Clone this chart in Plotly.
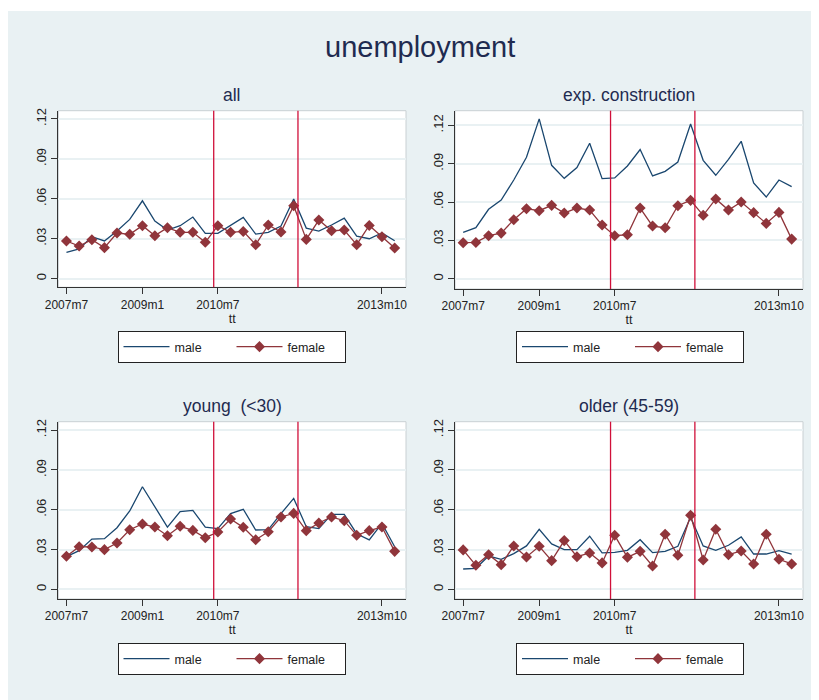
import plotly.graph_objects as go

# ---------------- data ----------------
periods = ["2007m7", "2007m10", "2008m1", "2008m4", "2008m7", "2008m10",
           "2009m1", "2009m4", "2009m7", "2009m10", "2010m1", "2010m4",
           "2010m7", "2010m10", "2011m1", "2011m4", "2011m7", "2011m10",
           "2012m1", "2012m4", "2012m7", "2012m10", "2013m1", "2013m4",
           "2013m7", "2013m10", "2014m1"]

all_male = [0.0198, 0.0223, 0.0315, 0.0283, 0.0358, 0.0445, 0.0585, 0.0433, 0.0365,
            0.0398, 0.0463, 0.0340, 0.0340, 0.0400, 0.0460, 0.0335, 0.0348, 0.0395,
            0.0598, 0.0380, 0.0358, 0.0403, 0.0455, 0.0320, 0.0300, 0.0343, 0.0285]
all_female = [0.0283, 0.0245, 0.0293, 0.0233, 0.0343, 0.0333, 0.0398, 0.0323, 0.0383,
              0.0348, 0.0348, 0.0273, 0.0398, 0.0348, 0.0355, 0.0255, 0.0403, 0.0350,
              0.0548, 0.0295, 0.0440, 0.0360, 0.0365, 0.0255, 0.0400, 0.0315, 0.0230]

con_male = [0.0363, 0.0399, 0.0543, 0.0616, 0.0772, 0.0950, 0.1250, 0.0887, 0.0785,
            0.0869, 0.1059, 0.0783, 0.0788, 0.0882, 0.1010, 0.0804, 0.0840, 0.0913,
            0.1210, 0.0926, 0.0809, 0.0934, 0.1075, 0.0749, 0.0639, 0.0772, 0.0720]
con_female = [0.0282, 0.0284, 0.0337, 0.0357, 0.0462, 0.0548, 0.0532, 0.0574, 0.0514,
              0.0553, 0.0537, 0.0420, 0.0337, 0.0344, 0.0553, 0.0412, 0.0399, 0.0571,
              0.0613, 0.0496, 0.0624, 0.0537, 0.0600, 0.0517, 0.0433, 0.0519, 0.0310]

young_male = [0.0246, 0.0291, 0.0379, 0.0382, 0.0464, 0.0590, 0.0773, 0.0623, 0.0469,
              0.0585, 0.0595, 0.0469, 0.0457, 0.0570, 0.0603, 0.0447, 0.0449, 0.0570,
              0.0685, 0.0472, 0.0457, 0.0565, 0.0565, 0.0419, 0.0372, 0.0497, 0.0321]
young_female = [0.0249, 0.0321, 0.0319, 0.0299, 0.0349, 0.0449, 0.0492, 0.0469, 0.0404,
                0.0475, 0.0444, 0.0389, 0.0432, 0.0530, 0.0467, 0.0374, 0.0434, 0.0545,
                0.0572, 0.0442, 0.0500, 0.0545, 0.0517, 0.0407, 0.0442, 0.0469, 0.0286]

older_male = [0.0153, 0.0158, 0.0251, 0.0226, 0.0269, 0.0327, 0.0452, 0.0342, 0.0299,
              0.0299, 0.0400, 0.0274, 0.0279, 0.0294, 0.0374, 0.0276, 0.0286, 0.0324,
              0.0543, 0.0327, 0.0294, 0.0332, 0.0395, 0.0266, 0.0266, 0.0291, 0.0266]
older_female = [0.0297, 0.0181, 0.0261, 0.0186, 0.0327, 0.0244, 0.0324, 0.0216, 0.0367,
                0.0246, 0.0274, 0.0199, 0.0407, 0.0241, 0.0286, 0.0176, 0.0415, 0.0256,
                0.0558, 0.0221, 0.0452, 0.0261, 0.0289, 0.0191, 0.0415, 0.0226, 0.0191]

panel_titles = ["all", "exp. construction", "young\u00a0 (&lt;30)", "older (45-59)"]
series_names = ["male", "female"]
x_tick_labels = ["2007m7", "2009m1", "2010m7", "2013m10"]
y_tick_vals = [0, 0.03, 0.06, 0.09, 0.12]
y_tick_text = ["0", ".03", ".06", ".09", ".12"]
reform_dates = ["2010m6", "2012m2"]


def to_date(p):
    y, m = p.split("m")
    return f"{y}-{int(m):02d}-01"


x_dates = [to_date(p) for p in periods]

panels = [
    (all_male, all_female),
    (con_male, con_female),
    (young_male, young_female),
    (older_male, older_female),
]

# ---------------- style ----------------
OFF = 8                      # page body margin
W, H = 819 - OFF, 700 - OFF  # figure size so that the page is 819x700


def px(x):
    return (x - OFF) / W


def py(y):
    return 1 - (y - OFF) / H


BG = "#e9f1f3"
NAVY = "#1a476f"
MAROON = "#90353b"
VLINE = "#d0103a"
TITLE_COL = "#1f2b50"
FONT = "Liberation Sans, Arial, sans-serif"

# page-pixel boxes of plot areas: (left, right, top, bottom)
boxes = [
    (58.3, 406.0, 110.7, 287.3),
    (455.0, 803.0, 110.7, 289.0),
    (58.3, 406.0, 421.7, 599.0),
    (455.0, 803.0, 421.7, 599.0),
]
y_ranges = [
    [-0.0065, 0.1262],
    [-0.0080, 0.1314],
    [-0.0073, 0.1263],
    [-0.0073, 0.1263],
]
x_range = ["2007-05-03", "2014-03-24"]
legend_pos = [(231.5, 331.0), (630.0, 331.0), (231.5, 643.0), (630.0, 643.0)]

fig = go.Figure()

for i, ((male, female), title) in enumerate(zip(panels, panel_titles)):
    n = i + 1
    xa = "x" if n == 1 else f"x{n}"
    ya = "y" if n == 1 else f"y{n}"
    lg = "legend" if n == 1 else f"legend{n}"
    fig.add_trace(go.Scatter(
        x=x_dates, y=male, mode="lines", name=series_names[0],
        line=dict(color=NAVY, width=1.3), xaxis=xa, yaxis=ya, legend=lg))
    fig.add_trace(go.Scatter(
        x=x_dates, y=female, mode="lines+markers", name=series_names[1],
        line=dict(color=MAROON, width=1.3),
        marker=dict(symbol="diamond", size=8.5, color=MAROON),
        xaxis=xa, yaxis=ya, legend=lg))

    l, r, t, b = boxes[i]
    xdom = [px(l), px(r)]
    ydom = [py(b), py(t)]
    axis_common = dict(
        showline=True, linecolor="#333333", linewidth=1,
        ticks="outside", ticklen=6, tickcolor="#333333", tickwidth=1,
        automargin=False, mirror=False,
    )
    xkey = "xaxis" if n == 1 else f"xaxis{n}"
    ykey = "yaxis" if n == 1 else f"yaxis{n}"
    fig.update_layout({
        xkey: dict(
            domain=xdom, anchor=ya, type="date", range=x_range,
            tickvals=[to_date(p) for p in x_tick_labels], ticktext=x_tick_labels,
            tickfont=dict(family=FONT, size=12, color="#222222"),
            showgrid=False, zeroline=False,
            title=dict(text="tt", font=dict(family=FONT, size=12.5, color="#222222"),
                       standoff=2),
            **axis_common),
        ykey: dict(
            domain=ydom, anchor=xa, range=y_ranges[i],
            tickvals=y_tick_vals, ticktext=y_tick_text, tickangle=-90,
            tickfont=dict(family=FONT, size=13, color="#222222"),
            showgrid=True, gridcolor=BG, gridwidth=1.5,
            zeroline=True, zerolinecolor=BG, zerolinewidth=1.5,
            **axis_common),
    })

    # plot region border
    fig.add_shape(type="rect", xref=f"{xa} domain", yref=f"{ya} domain",
                  x0=0, x1=1, y0=0, y1=1, layer="below",
                  line=dict(color="#c9d0d3", width=1))
    # reform lines
    for d in reform_dates:
        fig.add_shape(type="line", xref=xa, yref=f"{ya} domain",
                      x0=to_date(d), x1=to_date(d), y0=0, y1=1,
                      line=dict(color=VLINE, width=1.3))

    # panel title
    fig.add_annotation(text=title, xref="paper", yref="paper",
                       x=px((l + r) / 2), y=py(t - 4),
                       xanchor="center", yanchor="bottom", showarrow=False,
                       font=dict(family=FONT, size=17.5, color=TITLE_COL))

    lx, ly = legend_pos[i]
    fig.update_layout({lg: dict(
        x=px(lx), y=py(ly), xanchor="center", yanchor="top",
        orientation="h", bgcolor="white", bordercolor="#222222", borderwidth=1,
        font=dict(family=FONT, size=12.5, color="#222222"),
        itemwidth=46, entrywidth=52, tracegroupgap=0,
    )})

# outer white strip at the top
fig.add_shape(type="rect", xref="paper", yref="paper", x0=0, x1=1,
              y0=py(11), y1=1, fillcolor="white", line=dict(width=0), layer="above")

fig.add_annotation(text="unemployment", xref="paper", yref="paper",
                   x=px(420), y=py(47), xanchor="center", yanchor="middle",
                   showarrow=False,
                   font=dict(family=FONT, size=29, color=TITLE_COL))

fig.update_layout(
    width=W, height=H,
    margin=dict(l=0, r=0, t=0, b=0),
    paper_bgcolor=BG, plot_bgcolor="white",
    showlegend=True,
    font=dict(family=FONT),
)

fig.write_html("out.html")
